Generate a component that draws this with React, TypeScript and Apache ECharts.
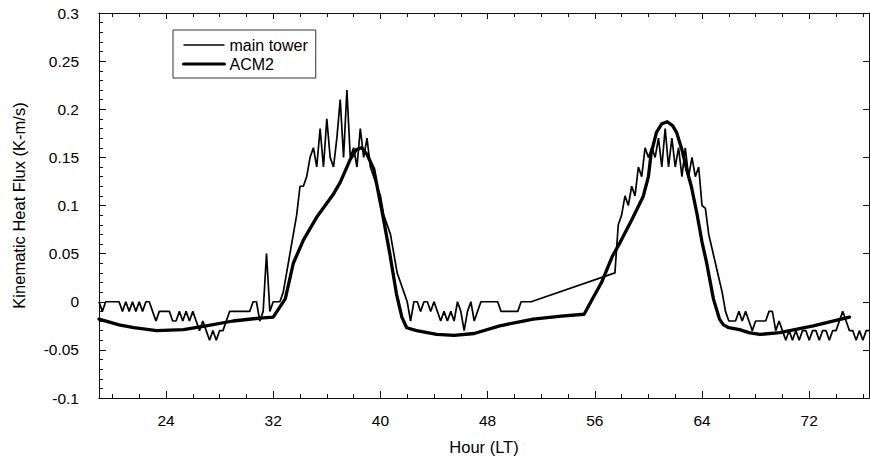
import React, { useEffect, useRef } from 'react';
import * as echarts from 'echarts';

// main tower: sampled every 0.25 h, two segments (data gap between them)
const towerStartA = 19;
const towerStartB = 57.5;
const towerStep = 0.25;
const towerValuesA = [
  0, -0.01, 0, 0,
  0, 0, 0, -0.01,
  0, -0.01, 0, -0.01,
  0, -0.01, 0, 0,
  -0.01, -0.02, -0.01, -0.01,
  -0.01, -0.01, -0.02, -0.02,
  -0.01, -0.02, -0.01, -0.02,
  -0.01, -0.02, -0.03, -0.02,
  -0.03, -0.04, -0.03, -0.04,
  -0.03, -0.03, -0.02, -0.01,
  -0.01, -0.01, -0.01, -0.01,
  -0.01, -0.01, 0, 0,
  -0.02, -0.01, 0.05, -0.01,
  0, 0, 0, 0.01,
  0.03, 0.05, 0.07, 0.09,
  0.12, 0.12, 0.13, 0.15,
  0.16, 0.14, 0.18, 0.14,
  0.19, 0.15, 0.14, 0.17,
  0.21, 0.15, 0.22, 0.15,
  0.16, 0.14, 0.18, 0.15,
  0.17, 0.14, 0.13, 0.12,
  0.11, 0.09, 0.08, 0.07,
  0.05, 0.03, 0.02, 0.01,
  0, -0.02, 0, 0,
  -0.01, 0, 0, -0.01,
  0, -0.01, -0.02, -0.01,
  -0.02, -0.01, -0.02, 0,
  -0.01, -0.03, -0.01, 0,
  -0.02, -0.01, 0, 0,
  0, 0, 0, 0,
  -0.01, -0.01, -0.01, -0.01,
  -0.01, -0.01, 0, 0,
  0, 0,
];
const towerValuesB = [
  0.03, 0.08,
  0.09, 0.11, 0.10, 0.12,
  0.11, 0.14, 0.13, 0.16,
  0.15, 0.16, 0.15, 0.17,
  0.14, 0.18, 0.14, 0.17,
  0.14, 0.16, 0.13, 0.16,
  0.13, 0.15, 0.13, 0.14,
  0.10, 0.097, 0.07, 0.055,
  0.04, 0.025, 0.01, -0.01,
  -0.02, -0.02, -0.02, -0.01,
  -0.02, -0.01, -0.02, -0.03,
  -0.02, -0.02, -0.02, -0.02,
  -0.01, -0.01, -0.03, -0.02,
  -0.03, -0.04, -0.03, -0.04,
  -0.03, -0.04, -0.03, -0.03,
  -0.04, -0.03, -0.03, -0.04,
  -0.03, -0.03, -0.04, -0.03,
  -0.03, -0.02, -0.01, -0.02,
  -0.03, -0.03, -0.04, -0.03,
  -0.04, -0.03, -0.03,
];

// ACM2 model
const acmHours = [19.0, 20.5, 21.6, 23.3, 25.3, 27.0, 29.0, 31.0, 32.0, 32.9, 33.5, 34.25, 35.25, 36.5, 37.0, 37.75, 38.2, 38.6, 39.0, 39.5, 40.2, 40.7, 41.2, 41.6, 41.96, 42.7, 44.2, 45.5, 47.0, 48.9, 51.4, 53.5, 55.2, 55.9, 56.5, 57.3, 57.9, 58.75, 59.6, 60.0, 60.2, 60.6, 61.0, 61.4, 61.8, 62.1, 62.5, 62.9, 63.2, 63.6, 64.0, 64.35, 64.85, 65.3, 65.6, 66.0, 66.8, 67.5, 68.3, 69.8, 72.3, 75.0];
const acmValues = [-0.018, -0.024, -0.027, -0.030, -0.029, -0.025, -0.020, -0.017, -0.016, 0.003, 0.040, 0.064, 0.088, 0.112, 0.124, 0.148, 0.158, 0.160, 0.153, 0.138, 0.088, 0.05, 0.008, -0.016, -0.027, -0.030, -0.034, -0.035, -0.033, -0.025, -0.018, -0.015, -0.013, 0.005, 0.02, 0.047, 0.062, 0.085, 0.109, 0.13, 0.154, 0.176, 0.185, 0.187, 0.183, 0.176, 0.158, 0.135, 0.12, 0.093, 0.062, 0.04, 0.003, -0.018, -0.024, -0.027, -0.029, -0.032, -0.034, -0.032, -0.025, -0.016];

const xMin = 19;
const xMax = 76.46;
const xMajorTicks = [24, 32, 40, 48, 56, 64, 72];
const xMinorTicks = [20, 22, 26, 28, 30, 34, 36, 38, 42, 44, 46, 50, 52, 54, 58, 60, 62, 66, 68, 70, 74, 76];
const yMin = -0.1;
const yMax = 0.3;
const yInterval = 0.05;

const FONT = '"Liberation Sans", Arial, Helvetica, sans-serif';
const INK = '#000';
const AXIS = '#111';

export default function App() {
  const ref = useRef<HTMLDivElement>(null);
  useEffect(() => {
    document.body.style.margin = '0';
    const chart = echarts.init(ref.current!, null, { renderer: 'svg' });
    const towerData = [
      ...towerValuesA.map((v, i) => [towerStartA + i * towerStep, v]),
      ...towerValuesB.map((v, i) => [towerStartB + i * towerStep, v]),
    ];
    const acmData = acmHours.map((h, i) => [h, acmValues[i]]);
    const axisLine = { show: true, onZero: false, lineStyle: { color: AXIS, width: 1 } };
    const tick = (len: number, values?: number[]) => ({
      show: true,
      inside: true,
      length: len,
      ...(values ? { customValues: values } : {}),
      lineStyle: { color: AXIS, width: 1 },
    });
    const baseX = {
      type: 'value',
      min: xMin,
      max: xMax,
      splitLine: { show: false },
      axisLine,
    };
    chart.setOption({
      animation: false,
      grid: { left: 99, right: 1, top: 13, bottom: 59, containLabel: false, outerBoundsMode: 'none' },
      legend: {
        orient: 'vertical',
        left: 173,
        top: 30,
        padding: [7, 8, 6, 9],
        itemGap: 3,
        itemWidth: 41,
        itemHeight: 14,
        borderColor: '#333',
        borderWidth: 1,
        backgroundColor: '#fff',
        itemStyle: { color: 'transparent', borderWidth: 0, opacity: 0 },
        textStyle: { fontSize: 16, color: INK, fontFamily: FONT },
        data: [
          { name: 'main tower', lineStyle: { width: 1.5, color: '#000' } },
          { name: 'ACM2', lineStyle: { width: 3, color: '#000' } },
        ],
      },
      xAxis: [
        {
          ...baseX,
          position: 'bottom',
          name: 'Hour (LT)',
          nameLocation: 'middle',
          nameGap: 40,
          nameTextStyle: { fontSize: 16.5, color: INK, fontFamily: FONT },
          axisTick: tick(7, xMajorTicks),
          axisLabel: { show: true, customValues: xMajorTicks, margin: 14, fontSize: 15.5, color: INK, fontFamily: FONT },
        },
        {
          ...baseX,
          position: 'bottom',
          axisTick: tick(4, xMinorTicks),
          axisLabel: { show: false },
        },
        {
          ...baseX,
          position: 'top',
          axisTick: tick(6, xMajorTicks),
          axisLabel: { show: false },
        },
        {
          ...baseX,
          position: 'top',
          axisTick: tick(4, xMinorTicks),
          axisLabel: { show: false },
        },
      ],
      yAxis: [
        {
          type: 'value',
          position: 'left',
          min: yMin,
          max: yMax,
          interval: yInterval,
          splitLine: { show: false },
          axisLine,
          axisTick: tick(7),
          minorTick: { show: true, splitNumber: 5, length: 4, lineStyle: { color: AXIS, width: 1 } },
          axisLabel: {
            margin: 20,
            fontSize: 15.5,
            color: INK,
            fontFamily: FONT,
            formatter: (v: number) => String(parseFloat(v.toFixed(2))),
          },
          name: 'Kinematic Heat Flux (K-m/s)',
          nameLocation: 'middle',
          nameGap: 72,
          nameTextStyle: { fontSize: 16.5, color: INK, fontFamily: FONT },
        },
        {
          type: 'value',
          position: 'right',
          min: yMin,
          max: yMax,
          interval: yInterval,
          splitLine: { show: false },
          axisLine,
          axisTick: tick(6),
          axisLabel: { show: false },
        },
      ],
      series: [
        {
          name: 'main tower',
          type: 'line',
          xAxisIndex: 0,
          yAxisIndex: 0,
          data: towerData,
          symbol: 'none',
          lineStyle: { color: '#000', width: 1.7 },
          itemStyle: { color: '#000' },
        },
        {
          name: 'ACM2',
          type: 'line',
          xAxisIndex: 0,
          yAxisIndex: 0,
          data: acmData,
          symbol: 'none',
          lineStyle: { color: '#000', width: 3.3, join: 'round', cap: 'round' },
          itemStyle: { color: '#000' },
        },
      ],
    });
    return () => chart.dispose();
  }, []);
  return <div ref={ref} style={{ width: 870, height: 457 }} />;
}
